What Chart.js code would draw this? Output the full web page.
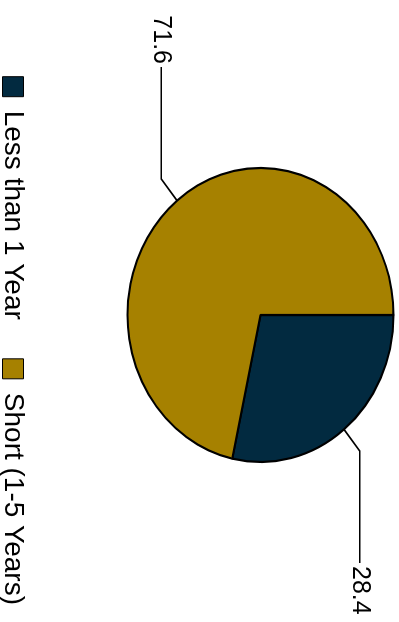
<!DOCTYPE html>
<html>
<head>
<meta charset="utf-8">
<script src="https://cdn.jsdelivr.net/npm/chart.js@4/dist/chart.umd.min.js"></script>
<style>
  html, body { margin: 0; padding: 0; background: #fff; overflow: hidden; }
  #wrap { width: 399px; height: 622px; position: relative; overflow: hidden; }
  /* chart is laid out landscape, then turned a quarter clockwise;
     a margin of the canvas falls outside the page on purpose */
  #maturity {
    position: absolute; left: 0; top: 0;
    transform-origin: 0 0;
    transform: translate(455px, -20px) rotate(90deg);
  }
</style>
</head>
<body>
<div id="wrap"><canvas id="maturity" width="664" height="455"></canvas></div>
<script>
const categories = ["Less than 1 Year", "Short (1-5 Years)"];
const shares = [28.4, 71.6];
const sliceColors = ["#022a40", "#a68100"];

// pie is a bit wider than tall
const stretchX = 147 / 133;

const ovalPie = {
  id: "ovalPie",
  beforeDatasetsDraw(chart) {
    const arc = chart.getDatasetMeta(0).data[0];
    const ctx = chart.ctx;
    ctx.save();
    ctx.translate(arc.x, arc.y);
    ctx.scale(stretchX, 1);
    ctx.translate(-arc.x, -arc.y);
  },
  afterDatasetsDraw(chart) {
    chart.ctx.restore();
  },
};

// value labels with elbow leader lines
const leaderLabels = {
  id: "leaderLabels",
  afterDatasetsDraw(chart) {
    const ctx = chart.ctx;
    const meta = chart.getDatasetMeta(0);
    const values = chart.data.datasets[0].data;
    ctx.save();
    ctx.strokeStyle = "#000";
    ctx.lineWidth = 1.6;
    ctx.fillStyle = "#000";
    ctx.font = "25px 'Liberation Sans', Arial, sans-serif";
    ctx.textBaseline = "middle";
    meta.data.forEach((arc, i) => {
      const mid = (arc.startAngle + arc.endAngle) / 2;
      const r = arc.outerRadius;
      const cos = Math.cos(mid), sin = Math.sin(mid);
      const x0 = arc.x + cos * r * stretchX, y0 = arc.y + sin * r;
      const x1 = arc.x + cos * (r + 25) * stretchX, y1 = arc.y + sin * (r + 25);
      const right = cos >= 0;
      const x2 = arc.x + (right ? 248 : -248);
      ctx.beginPath();
      ctx.moveTo(x0, y0);
      ctx.lineTo(x1, y1);
      ctx.lineTo(x2, y1);
      ctx.stroke();
      ctx.textAlign = right ? "left" : "right";
      ctx.fillText(String(values[i]), x2 + (right ? 3 : -3), y1);
    });
    ctx.restore();
  },
};

const ctx = document.getElementById("maturity").getContext("2d");
new Chart(ctx, {
  type: "pie",
  data: {
    labels: categories,
    datasets: [
      {
        data: shares,
        backgroundColor: sliceColors,
        borderColor: "#000",
        borderWidth: 2,
        radius: 133,
      },
    ],
  },
  options: {
    responsive: false,
    animation: false,
    devicePixelRatio: 1,
    layout: {
      padding: { top: 0, left: 6, right: 0, bottom: 0 },
    },
    plugins: {
      tooltip: { enabled: false },
      legend: {
        position: "bottom",
        align: "end",
        maxHeight: 66,
        labels: {
          color: "#000",
          boxWidth: 20,
          boxHeight: 21,
          padding: 39,
          font: { family: "'Liberation Sans', Arial, sans-serif", size: 28 },
          generateLabels(chart) {
            return Chart.overrides.pie.plugins.legend.labels
              .generateLabels(chart)
              .map((l) => ({ ...l, lineWidth: 1 }));
          },
        },
      },
    },
  },
  plugins: [ovalPie, leaderLabels],
});
</script>
</body>
</html>
